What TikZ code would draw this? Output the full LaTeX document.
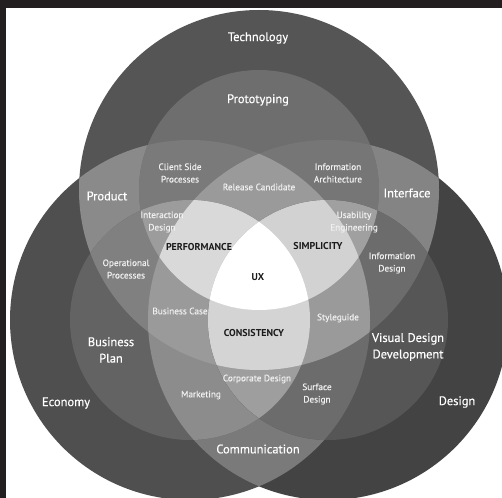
\documentclass[tikz,border=0pt]{standalone}
\usepackage{fontspec}
\setmainfont{PT Sans}
\newfontfamily\vennfont[FakeBold=0.4]{PT Sans}

\definecolor{framec}{HTML}{231F20}
\definecolor{techc}{HTML}{555555}
\definecolor{econc}{HTML}{4F4F4F}
\definecolor{desc}{HTML}{434343}
\definecolor{prodc}{HTML}{8A8A8A}
\definecolor{intfc}{HTML}{848484}
\definecolor{commc}{HTML}{7A7A7A}
\definecolor{protoc}{HTML}{6E6E6E}
\definecolor{clientc}{HTML}{7A7A7A}
\definecolor{infarchc}{HTML}{767676}
\definecolor{releasec}{HTML}{9A9A9A}
\definecolor{bplanc}{HTML}{636363}
\definecolor{operc}{HTML}{808080}
\definecolor{marketc}{HTML}{8C8C8C}
\definecolor{bcasec}{HTML}{9A9A9A}
\definecolor{visdevc}{HTML}{565656}
\definecolor{infdesc}{HTML}{6C6C6C}
\definecolor{surfc}{HTML}{6C6C6C}
\definecolor{stylec}{HTML}{9A9A9A}
\definecolor{interc}{HTML}{9C9C9C}
\definecolor{usabc}{HTML}{A0A0A0}
\definecolor{corpc}{HTML}{9E9E9E}
\definecolor{perfc}{HTML}{D9D9D9}
\definecolor{simpc}{HTML}{D2D2D2}
\definecolor{consc}{HTML}{D4D4D4}
\definecolor{keyc}{HTML}{1A1A1A}

\newcommand{\radbig}{180bp}
\newcommand{\radmid}{120bp}

\begin{document}
\begin{tikzpicture}[x=1bp, y=-1bp,
    biglabel/.style={text=white, align=center, font=\vennfont\fontsize{12.5}{16.5}\selectfont},
    smalllabel/.style={text=white!94!black, align=center, font=\vennfont\fontsize{9.3}{12.5}\selectfont},
    keylabel/.style={text=keyc, font=\bfseries\fontsize{10}{11}\selectfont}]
    \useasboundingbox (0,0) rectangle (502,498);
    \clip (0,0) rectangle (502,498);
    \fill[white] (0,0) rectangle (502,498);
    \fill[framec] (0,0) rectangle (502,8);
    \fill[framec] (0,0) rectangle (6,498);

    \coordinate (T) at (259,190);
    \coordinate (E) at (190,320);
    \coordinate (D) at (328,320);

    % outer circles
    \fill[techc] (T) circle[radius=\radbig];
    \fill[econc] (E) circle[radius=\radbig];
    \fill[desc] (D) circle[radius=\radbig];
    \begin{scope}
        \clip (T) circle[radius=\radbig];
        \fill[prodc] (E) circle[radius=\radbig];
        \fill[intfc] (D) circle[radius=\radbig];
    \end{scope}
    \begin{scope}
        \clip (E) circle[radius=\radbig];
        \fill[commc] (D) circle[radius=\radbig];
    \end{scope}

    % inner circles
    \fill[protoc] (T) circle[radius=\radmid];
    \begin{scope}
        \clip (T) circle[radius=\radmid];
        \fill[clientc] (E) circle[radius=\radbig];
        \fill[infarchc] (D) circle[radius=\radbig];
        \clip (E) circle[radius=\radbig];
        \fill[releasec] (D) circle[radius=\radbig];
    \end{scope}
    \fill[bplanc] (E) circle[radius=\radmid];
    \begin{scope}
        \clip (E) circle[radius=\radmid];
        \fill[operc] (T) circle[radius=\radbig];
        \fill[marketc] (D) circle[radius=\radbig];
        \clip (T) circle[radius=\radbig];
        \fill[bcasec] (D) circle[radius=\radbig];
    \end{scope}
    \fill[visdevc] (D) circle[radius=\radmid];
    \begin{scope}
        \clip (D) circle[radius=\radmid];
        \fill[infdesc] (T) circle[radius=\radbig];
        \fill[surfc] (E) circle[radius=\radbig];
        \clip (T) circle[radius=\radbig];
        \fill[stylec] (E) circle[radius=\radbig];
    \end{scope}

    % inner overlaps
    \begin{scope}
        \clip (T) circle[radius=\radmid];
        \fill[interc] (E) circle[radius=\radmid];
        \clip (E) circle[radius=\radmid];
        \fill[perfc] (D) circle[radius=\radbig];
        \fill[white] (D) circle[radius=\radmid];
    \end{scope}
    \begin{scope}
        \clip (T) circle[radius=\radmid];
        \fill[usabc] (D) circle[radius=\radmid];
        \clip (D) circle[radius=\radmid];
        \fill[simpc] (E) circle[radius=\radbig];
        \fill[white] (E) circle[radius=\radmid];
    \end{scope}
    \begin{scope}
        \clip (E) circle[radius=\radmid];
        \fill[corpc] (D) circle[radius=\radmid];
        \clip (D) circle[radius=\radmid];
        \fill[consc] (T) circle[radius=\radbig];
        \fill[white] (T) circle[radius=\radmid];
    \end{scope}

    % labels
    \node[biglabel] (tech) at (258,38) {Technology};
    \node[biglabel] (proto) at (258,100) {Prototyping};
    \node[biglabel] (prod) at (107,196) {Product};
    \node[biglabel] (intf) at (407,193) {Interface};
    \node[biglabel] (bplan) at (111,350) {Business\\Plan};
    \node[biglabel] (visdev) at (408,347) {Visual Design\\Development};
    \node[biglabel] (econ) at (66,403) {Economy};
    \node[biglabel] (des) at (457,402) {Design};
    \node[biglabel] (comm) at (258,449) {Communication};

    \node[smalllabel] (client) at (180,173) {Client Side\\Processes};
    \node[smalllabel] (infarch) at (338,173) {Information\\Architecture};
    \node[smalllabel] (release) at (259,187) {Release Candidate};
    \node[smalllabel] (inter) at (162,222) {Interaction\\Design};
    \node[smalllabel] (usab) at (354,222) {Usability\\Engineering};
    \node[smalllabel] (oper) at (126,269) {Operational\\Processes};
    \node[smalllabel] (infdes) at (392,263) {Information\\Design};
    \node[smalllabel] (bcase) at (180,311) {Business Case};
    \node[smalllabel] (style) at (338,318) {Styleguide};
    \node[smalllabel] (corp) at (257,379) {Corporate Design};
    \node[smalllabel] (market) at (201,395) {Marketing};
    \node[smalllabel] (surf) at (317,394) {Surface\\Design};

    \node[keylabel] (perf) at (199,247) {PERFORMANCE};
    \node[keylabel] (simp) at (318,246) {SIMPLICITY};
    \node[keylabel] (ux) at (258,277) {UX};
    \node[keylabel] (cons) at (254,333) {CONSISTENCY};
\end{tikzpicture}
\end{document}
